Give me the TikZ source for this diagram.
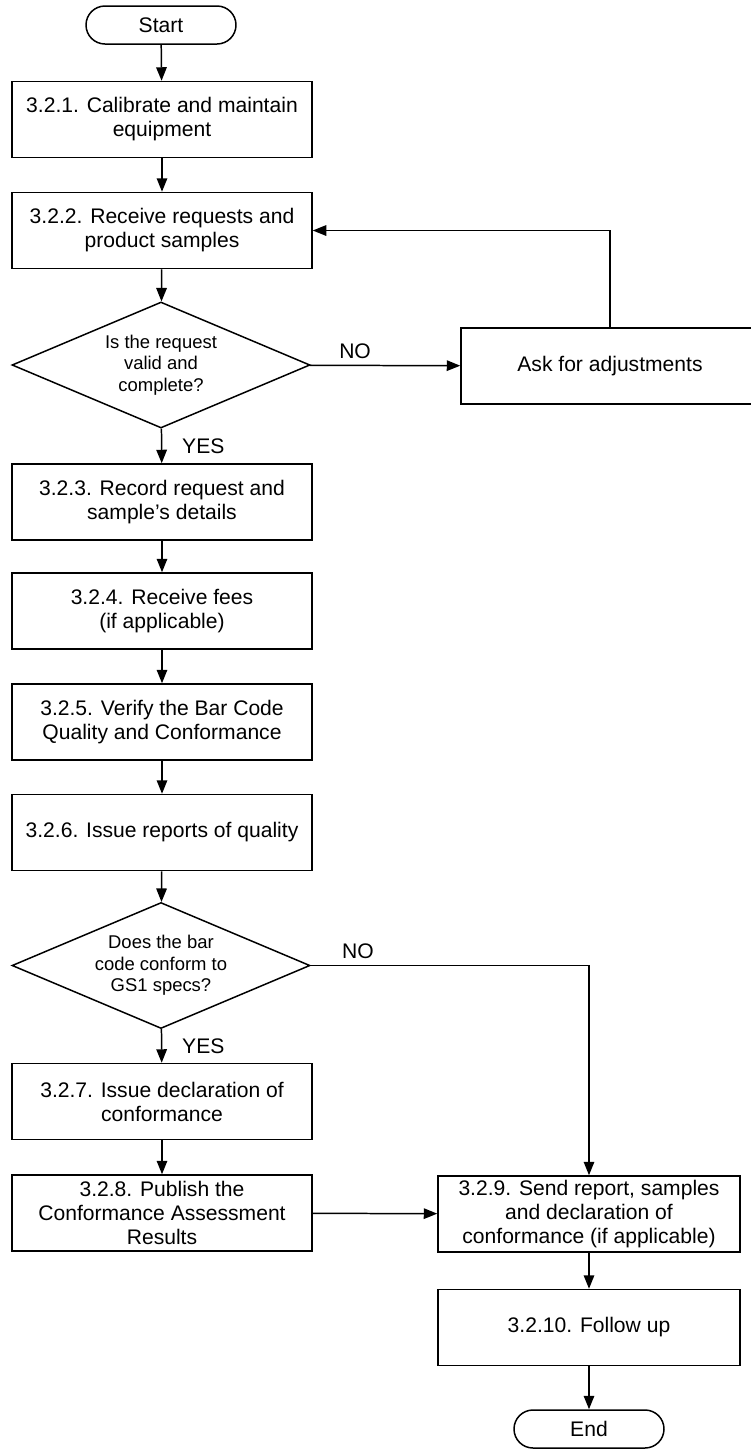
\documentclass[tikz,border=0pt]{standalone}
\usepackage{fontspec}
\setmainfont{Liberation Sans}
\usetikzlibrary{positioning, shapes.geometric, arrows.meta, calc}

\begin{document}
\begin{tikzpicture}[line width=0.85pt, >={Triangle[length=0.27cm,width=0.21cm]},
  box_node/.style={draw,rectangle,minimum width=6cm,minimum height=1.52cm,inner sep=1pt,align=center,font=\fontsize{12}{13.7}\selectfont},
  cond_node/.style={draw,diamond,shape aspect=2.37,minimum width=5.96cm,minimum height=2.52cm,inner sep=1pt,align=center,font=\fontsize{10.5}{12.3}\selectfont},
  term_node/.style={draw,rectangle,rounded corners=0.38cm,minimum width=3cm,minimum height=0.76cm,font=\fontsize{12}{13.7}\selectfont},
  label_node/.style={font=\fontsize{12}{13.7}\selectfont}]

\useasboundingbox (0,0) rectangle (15,-29);

\node[term_node] (start) at (3.22, -0.50) {Start};
\node[box_node] (s1) at (3.24, -2.39) {3.2.1. Calibrate and maintain\\equipment};
\node[box_node] (s2) at (3.24, -4.61) {3.2.2. Receive requests and\\product samples};
\node[cond_node] (q1) at (3.22, -7.30) {Is the request\\valid and\\complete?};
\node[box_node, minimum width=5.96cm] (adj) at (12.20, -7.32) {Ask for adjustments};
\node[box_node] (s3) at (3.24, -10.04) {3.2.3. Record request and\\sample’s details};
\node[box_node] (s4) at (3.24, -12.22) {3.2.4. Receive fees\\(if applicable)};
\node[box_node] (s5) at (3.24, -14.44) {3.2.5. Verify the Bar Code\\Quality and Conformance};
\node[box_node] (s6) at (3.24, -16.65) {3.2.6. Issue reports of quality};
\node[cond_node] (q2) at (3.22, -19.31) {Does the bar\\code conform to\\GS1 specs?};
\node[box_node] (s7) at (3.24, -22.03) {3.2.7. Issue declaration of\\conformance};
\node[box_node] (s8) at (3.24, -24.26) {3.2.8. Publish the\\Conformance Assessment\\Results};
\node[box_node, minimum width=6.04cm] (s9) at (11.78, -24.28) {3.2.9. Send report, samples\\and declaration of\\conformance (if applicable)};
\node[box_node, minimum width=6.04cm] (s10) at (11.78, -26.55) {3.2.10. Follow up};
\node[term_node] (end) at (11.78, -28.58) {End};

\path[draw,->]
\foreach \i/\j in {start/s1,s1/s2,s2/q1,s3/s4,s4/s5,s5/s6,s6/q2,s7/s8,s9/s10,s10/end}{(\i) edge (\j) }
(s8) edge (s9)
(q1) edge node[label_node, right=0.28cm] {YES} (s3)
(q2) edge node[label_node, right=0.28cm] {YES} (s7)
(q1) edge node[label_node, pos=0.3, above] {NO} (adj);

\draw[->] (adj.north) |- (s2.east);
\draw[->] (q2.east) -| node[label_node, pos=0.085, above] {NO} (s9.north);

\end{tikzpicture}
\end{document}
